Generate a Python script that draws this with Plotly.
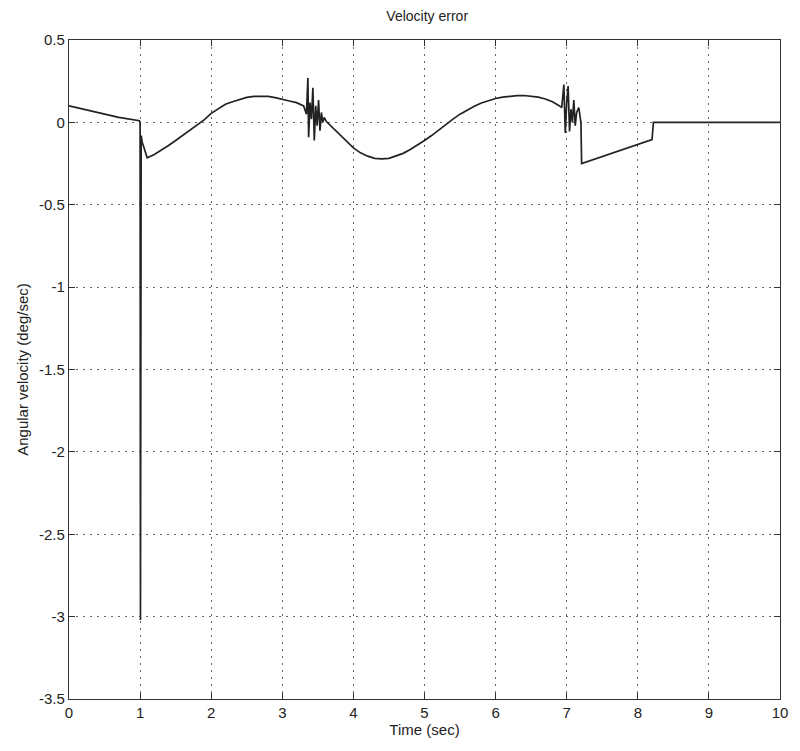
import plotly.graph_objects as go

# Time samples (sec) and angular velocity error (deg/sec)
time_s = [0.0, 0.35, 0.7, 0.99, 1.0, 1.005, 1.01, 1.015, 1.03,
          1.1, 1.2, 1.3, 1.4, 1.5, 1.6, 1.7, 1.8, 1.9, 2.0, 2.1, 2.2, 2.3, 2.4, 2.5, 2.6, 2.7, 2.8, 2.9,
          3.0, 3.1, 3.2, 3.30, 3.34, 3.36, 3.37, 3.39, 3.41, 3.43, 3.45, 3.47, 3.49, 3.51, 3.53, 3.55,
          3.57, 3.59, 3.62, 3.7, 3.8, 3.9, 4.0, 4.1, 4.2, 4.3, 4.4, 4.5, 4.6, 4.7, 4.8, 4.9,
          5.0, 5.1, 5.2, 5.3, 5.4, 5.5, 5.6, 5.7, 5.8, 5.9, 6.0, 6.1, 6.2, 6.3, 6.4, 6.5, 6.6, 6.7, 6.8, 6.9,
          6.93, 6.96, 6.98, 7.00, 7.02, 7.04, 7.06, 7.08, 7.10, 7.12, 7.14, 7.17, 7.19, 7.20, 7.21,
          8.2, 8.22, 10.0]
velocity_err = [0.10, 0.065, 0.03, 0.01, 0.0, -3.02, -0.4, -0.08, -0.12,
                -0.215, -0.195, -0.17, -0.14, -0.11, -0.08, -0.05, -0.02, 0.015, 0.055, 0.085, 0.11, 0.125, 0.14, 0.152, 0.158, 0.16, 0.158, 0.15,
                0.138, 0.13, 0.12, 0.10, 0.05, 0.27, -0.09, 0.12, 0.02, 0.21, -0.11, 0.10, -0.02, 0.135, -0.05, 0.06,
                0.0, 0.03, 0.005, -0.03, -0.07, -0.115, -0.155, -0.185, -0.205, -0.218, -0.222, -0.218, -0.205, -0.188, -0.165, -0.14,
                -0.11, -0.08, -0.045, -0.01, 0.02, 0.05, 0.075, 0.098, 0.118, 0.133, 0.145, 0.153, 0.159, 0.162, 0.163, 0.16, 0.153, 0.142, 0.125, 0.10,
                0.09, 0.23, -0.065, 0.12, 0.22, -0.055, 0.08, 0.0, 0.135, -0.02, 0.06, 0.09, 0.0, 0.0, -0.25,
                -0.105, 0.0, 0.0]

x_ticks = [0, 1, 2, 3, 4, 5, 6, 7, 8, 9, 10]
x_ticktext = ["0", "1", "2", "3", "4", "5", "6", "7", "8", "9", "10"]
y_ticks = [0.5, 0, -0.5, -1, -1.5, -2, -2.5, -3, -3.5]
y_ticktext = ["0.5", "0", "-0.5", "-1", "-1.5", "-2", "-2.5", "-3", "-3.5"]

FONT = "Liberation Sans, Arial, Helvetica, sans-serif"

fig = go.Figure()
fig.add_trace(go.Scatter(x=time_s, y=velocity_err, mode="lines",
                         line=dict(color="#222222", width=1.7), showlegend=False,
                         hoverinfo="skip"))

axis_common = dict(
    showline=True, linecolor="#333333", linewidth=1.3, mirror="ticks",
    ticks="inside", ticklen=6, tickcolor="#333333", tickwidth=1.2,
    showgrid=True, gridcolor="#666666", griddash="1.5px,5.5px", gridwidth=1.3,
    zeroline=False, tickfont=dict(family=FONT, size=15, color="#222222"),
)

fig.update_layout(
    width=800, height=751,
    margin=dict(l=69, r=14, t=40, b=52),
    paper_bgcolor="white", plot_bgcolor="white",
    font=dict(family=FONT, color="#222222"),
    title=dict(text="Velocity error", x=0.534, xanchor="center", y=0.979, yanchor="middle",
               font=dict(family=FONT, size=14, color="#222222")),
    xaxis=dict(range=[0, 10], tickvals=x_ticks, ticktext=x_ticktext,
               title=dict(text="Time (sec)", font=dict(family=FONT, size=15), standoff=4),
               **axis_common),
    yaxis=dict(range=[-3.5, 0.5], tickvals=y_ticks, ticktext=y_ticktext,
               title=dict(text="Angular velocity (deg/sec)", font=dict(family=FONT, size=15), standoff=6),
               **axis_common),
)

fig.write_html("out.html")
